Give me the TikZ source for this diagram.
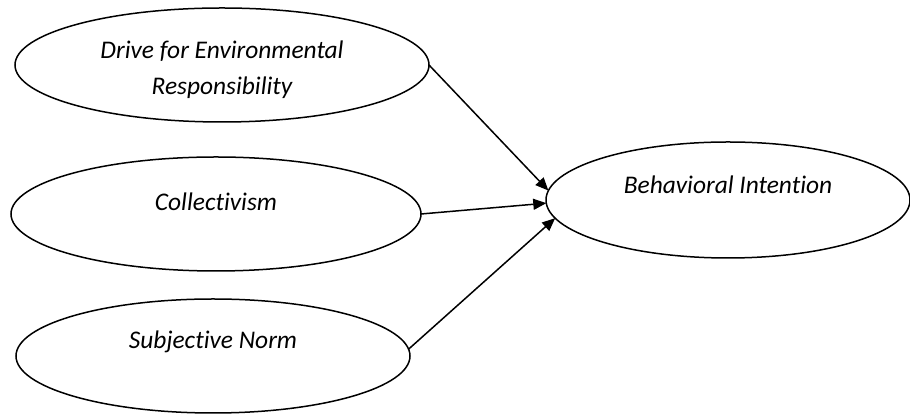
\documentclass[tikz,border=0pt]{standalone}
\usepackage{fontspec}
\setmainfont{Carlito}[Ligatures=NoCommon]
\usetikzlibrary{shapes.geometric,arrows.meta}

\begin{document}
\begin{tikzpicture}[x=0.5pt,y=-0.5pt,
  construct/.style={ellipse,draw,line width=0.75pt,inner sep=0pt,outer sep=0pt,minimum height=57pt},
  lbl/.style={font=\fontsize{12.7}{18}\selectfont\itshape,align=center,inner sep=0pt},
  effect/.style={line width=0.75pt,-{Triangle[length=6.5pt,width=5.5pt]}}]
\useasboundingbox (0,0) rectangle (910,415);
%----predictors--------------------------------
\node[construct,minimum width=207pt,
  label={[lbl,yshift=-2.5pt]center:Drive for Environmental\\Responsibility}] (drive) at (222,65) {};
\node[construct,minimum width=205pt,
  label={[lbl,yshift=6pt]center:Collectivism}] (collect) at (216,214) {};
\node[construct,minimum width=197pt,
  label={[lbl,yshift=7pt]center:Subjective Norm}] (norm) at (213,356) {};
%----outcome-----------------------------------
\node[construct,minimum width=182pt,minimum height=58pt,
  label={[lbl,yshift=7.5pt]center:Behavioral Intention}] (intent) at (728,200) {};
%----paths-------------------------------------
\draw[effect] (drive.east) -- (intent.177);
\draw[effect] (collect.east) -- (intent.181);
\draw[effect] (norm.2) -- (intent.186);
\end{tikzpicture}
\end{document}
